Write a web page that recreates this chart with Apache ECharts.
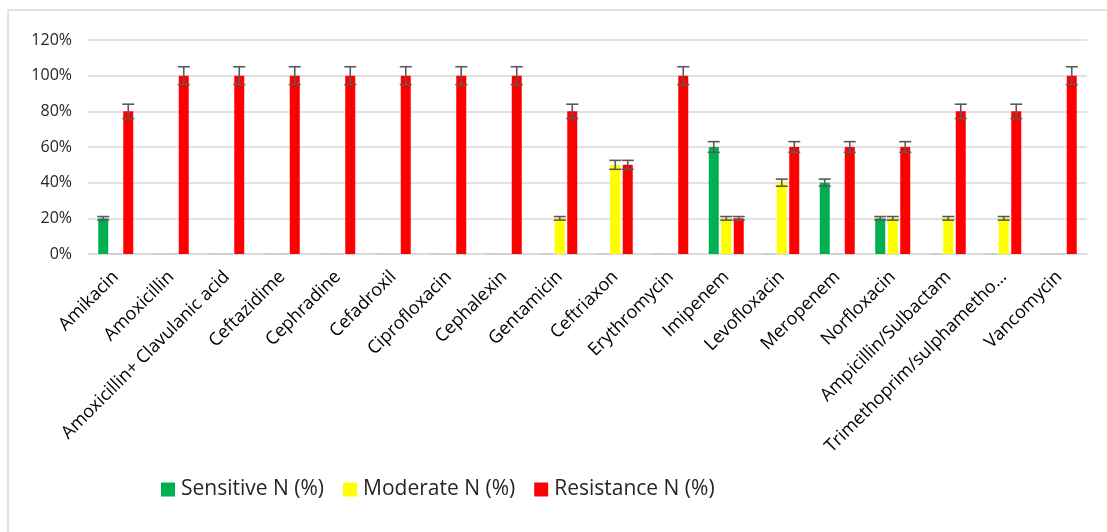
<!DOCTYPE html>
<html>
<head>
<meta charset="utf-8">
<script src="https://cdn.jsdelivr.net/npm/echarts@6/dist/echarts.min.js"></script>
<style>
html,body{margin:0;padding:0;background:#fff;}
#chart{width:1107px;height:532px;}
</style>
</head>
<body>
<div id="chart"></div>
<script>
const categories = ["Amikacin","Amoxicillin","Amoxicillin+ Clavulanic acid","Ceftazidime","Cephradine","Cefadroxil","Ciprofloxacin","Cephalexin","Gentamicin","Ceftriaxon","Erythromycin","Imipenem","Levofloxacin","Meropenem","Norfloxacin","Ampicillin/Sulbactam","Trimethoprim/sulphametho…","Vancomycin"];
const seriesNames = ["Sensitive N (%)","Moderate N (%)","Resistance N (%)"];
const sensitive  = [20,0,0,0,0,0,0,0,0,0,0,60,0,40,20,0,0,0];
const moderate   = [0,0,0,0,0,0,0,0,20,50,0,20,40,0,20,20,20,0];
const resistance = [80,100,100,100,100,100,100,100,80,50,100,20,60,60,60,80,80,100];
const sensitiveErr  = [1,0,0,0,0,0,0,0,0,0,0,3,0,2,1,0,0,0];
const moderateErr   = [0,0,0,0,0,0,0,0,1,2.5,0,1,2,0,1,1,1,0];
const resistanceErr = [4,5,5,5,5,5,5,5,4,2.5,5,1,3,3,3,4,4,5];
const yTicks = [0,20,40,60,80,100,120];

const colors = ["#00B050","#FFFF00","#FF0000"];
const values = [sensitive, moderate, resistance];
const errs = [sensitiveErr, moderateErr, resistanceErr];
const BW = 10, STEP = 12.5;
const FONT = "Open Sans";

const chart = echarts.init(document.getElementById('chart'), null, {renderer:'canvas'});

function errRenderer(k){
  return function(params, api){
    const idx = api.value(0), v = api.value(1), e = api.value(2);
    const x = api.coord([idx, v])[0] + (k-1)*STEP;
    const yh = api.coord([idx, v+e])[1];
    const yl = api.coord([idx, v-e])[1];
    const hw = 6;
    if (v === 0) {
      return {type:'line', shape:{x1:x-hw,y1:yh,x2:x+hw,y2:yh}, style:{stroke:'#c0c0c0', lineWidth:1}};
    }
    const st = {stroke:'#595959', lineWidth:1.6};
    return {type:'group', children:[
      {type:'line', shape:{x1:x,y1:yh,x2:x,y2:yl}, style:st},
      {type:'line', shape:{x1:x-hw,y1:yh,x2:x+hw,y2:yh}, style:st},
      {type:'line', shape:{x1:x-hw,y1:yl,x2:x+hw,y2:yl}, style:st}
    ]};
  };
}

const series = [];
for (let k=0;k<3;k++){
  series.push({
    name: seriesNames[k], type:'bar', data: values[k],
    barWidth: BW, barGap: '25%',
    itemStyle:{color:colors[k]}, z:2
  });
}
for (let k=0;k<3;k++){
  series.push({
    type:'custom', name:'err'+k,
    data: categories.map((c,i)=>[i, values[k][i], errs[k][i]]),
    renderItem: errRenderer(k), z:5, silent:true,
    encode:{x:0,y:1}
  });
}

chart.setOption({
  animation:false,
  backgroundColor:'#fff',
  textStyle:{fontFamily:FONT},
  graphic:[{type:'rect', shape:{x:8,y:10,width:1120,height:560},
    style:{fill:'none', stroke:'#d9d9d9', lineWidth:1.5}, silent:true, z:-1}],
  grid:{left:88, right:20, top:40, bottom:278, containLabel:false},
  legend:{
    data: seriesNames, left:156, top:474, itemWidth:14, itemHeight:14, itemGap:19,
    icon:'rect',
    textStyle:{fontFamily:FONT, fontSize:21, color:'#262626', padding:[0,0,0,1]}
  },
  xAxis:{
    type:'category', data:categories,
    axisTick:{show:false},
    axisLine:{lineStyle:{color:'#d9d9d9', width:1.5}},
    axisLabel:{rotate:45, interval:0, fontFamily:FONT, fontSize:18, color:'#000', margin:20}
  },
  yAxis:{
    type:'value', min:yTicks[0], max:yTicks[yTicks.length-1], interval:20,
    axisLine:{show:false}, axisTick:{show:false},
    splitLine:{lineStyle:{color:'#d9d9d9', width:1.5}},
    axisLabel:{formatter:'{value}%', fontFamily:FONT, fontSize:16, color:'#262626', margin:16}
  },
  series: series
});
</script>
</body>
</html>
